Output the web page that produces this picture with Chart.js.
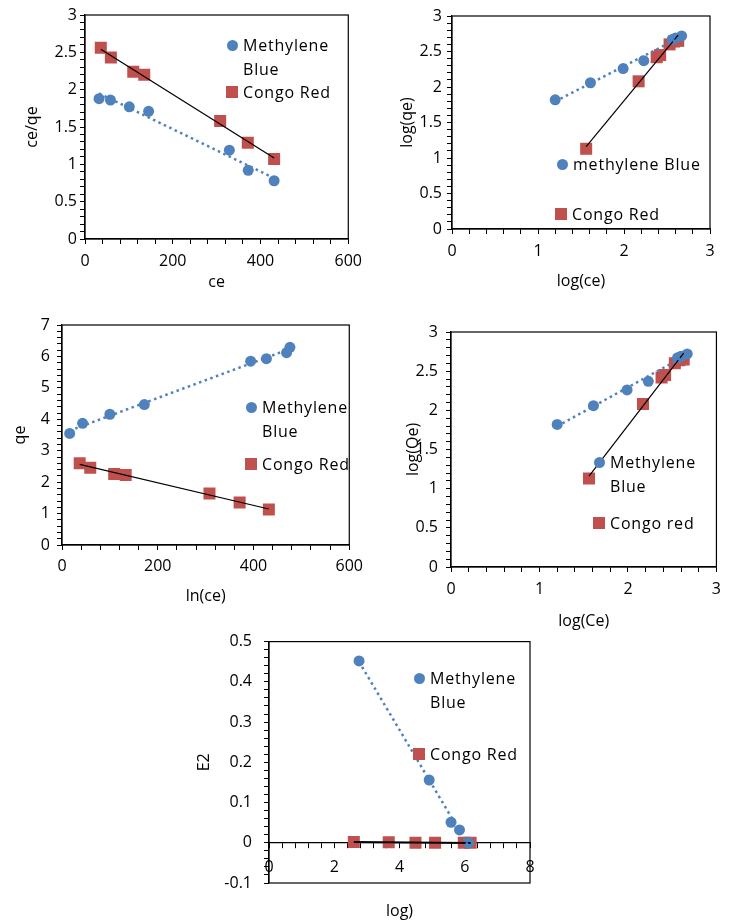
<!DOCTYPE html>
<html>
<head>
<meta charset="utf-8">
<script src="https://cdn.jsdelivr.net/npm/chart.js@4.4.1/dist/chart.umd.min.js"></script>
<style>
  body { margin: 0; background: #fff; width: 729px; height: 922px; position: relative; overflow: hidden; font-family: "Open Sans", sans-serif; }
  canvas { position: absolute; }
  .lg { position: absolute; font-size: 16px; line-height: 24px; color: #000; white-space: nowrap; letter-spacing: 0.8px; }
  .mk { position: absolute; }
  .mk.c { width: 11px; height: 11px; border-radius: 50%; background: #4F81BD; }
  .mk.s { width: 12px; height: 12px; background: #C0504D; }
</style>
</head>
<body>
<canvas id="c1" width="370" height="300" style="left:0;top:0"></canvas>
<canvas id="c2" width="359" height="300" style="left:370px;top:0"></canvas>
<canvas id="c3" width="370" height="330" style="left:0;top:300px"></canvas>
<canvas id="c4" width="359" height="340" style="left:370px;top:300px"></canvas>
<canvas id="c5" width="360" height="302" style="left:190px;top:620px"></canvas>
<div id="legends"></div>
<script>
// panel 1: ce/qe against ce
const p1BlueX = [32, 58, 101, 145, 329, 372, 431];
const p1BlueY = [1.88, 1.86, 1.77, 1.71, 1.19, 0.92, 0.78];
const p1RedX = [36, 59, 110, 135, 308, 371, 431];
const p1RedY = [2.56, 2.43, 2.24, 2.20, 1.58, 1.29, 1.07];

// panels 2 and 4: log(qe) against log(ce)
const logBlueX = [1.20, 1.61, 1.99, 2.23, 2.56, 2.60, 2.67];
const logBlueY = [1.82, 2.06, 2.26, 2.37, 2.67, 2.69, 2.72];
const logRedX = [1.56, 2.17, 2.38, 2.42, 2.53, 2.58, 2.63];
const logRedY = [1.13, 2.08, 2.42, 2.45, 2.60, 2.64, 2.65];

// panel 3: qe against ln(ce)
const p3BlueX = [16, 43, 100, 172, 394, 427, 469, 476];
const p3BlueY = [3.55, 3.87, 4.16, 4.47, 5.85, 5.93, 6.12, 6.29];
const p3RedX = [37, 59, 109, 133, 308, 371, 432];
const p3RedY = [2.60, 2.46, 2.26, 2.23, 1.64, 1.35, 1.13];

// panel 5: E2
const p5BlueX = [2.76, 4.91, 5.58, 5.84, 6.12];
const p5BlueY = [0.452, 0.156, 0.051, 0.032, 0.0];
const p5RedX = [2.60, 3.67, 4.49, 5.09, 5.97, 6.18];
const p5RedY = [0.002, 0.001, 0, 0, 0, 0];

const seriesNames = ['Methylene Blue', 'Congo Red'];

const BLUE = '#4F81BD';
const RED = '#C0504D';

Chart.defaults.font.family = '"Open Sans", sans-serif';
Chart.defaults.font.size = 16;
Chart.defaults.color = '#000';

function pts(xs, ys) {
    return xs.map((x, i) => ({ x: x, y: ys[i] }));
}

// least squares trendline over the data range
function fitLine(xs, ys) {
    const n = xs.length;
    const mx = xs.reduce((a, b) => a + b) / n;
    const my = ys.reduce((a, b) => a + b) / n;
    let sxy = 0, sxx = 0;
    for (let i = 0; i < n; i++) {
        sxy += (xs[i] - mx) * (ys[i] - my);
        sxx += (xs[i] - mx) * (xs[i] - mx);
    }
    const b = sxy / sxx, a = my - b * mx;
    const x0 = Math.min(...xs), x1 = Math.max(...xs);
    return [{ x: x0, y: a + b * x0 }, { x: x1, y: a + b * x1 }];
}

const frame = {
    id: 'frame',
    beforeDatasetsDraw(chart) {
        const { ctx, chartArea: a } = chart;
        ctx.save();
        ctx.strokeStyle = '#000';
        ctx.lineWidth = 1.2;
        ctx.strokeRect(a.left, a.top, a.right - a.left, a.bottom - a.top);
        ctx.restore();
    }
};

function majorLabel(major, dec) {
    return function (v) {
        const r = v / major;
        if (Math.abs(r - Math.round(r)) > 1e-6) return '';
        return String(Math.round(v * Math.pow(10, dec)) / Math.pow(10, dec));
    };
}

function makeChart(id, o) {
    const ctx = document.getElementById(id).getContext('2d');
    return new Chart(ctx, {
        type: 'scatter',
        data: {
            datasets: [
                { data: fitLine(o.bx, o.by), showLine: true, pointRadius: 0, borderColor: BLUE, borderWidth: 2.5, borderDash: [2.5, 3.5], order: 0 },
                { data: fitLine(o.rx, o.ry), showLine: true, pointRadius: 0, borderColor: '#000', borderWidth: o.blackW || 1.2, order: 0 },
                { label: seriesNames[0], data: pts(o.bx, o.by), pointStyle: 'circle', pointRadius: 5.5, backgroundColor: BLUE, borderColor: BLUE, borderWidth: 0, order: 1 },
                { label: seriesNames[1], data: pts(o.rx, o.ry), pointStyle: 'rect', pointRadius: 8.5, backgroundColor: RED, borderColor: RED, borderWidth: 0, order: 1 }
            ]
        },
        options: {
            animation: false,
            responsive: false,
            layout: { padding: o.pad },
            plugins: { legend: { display: false }, tooltip: { enabled: false } },
            scales: {
                x: {
                    type: 'linear', min: o.xMin, max: o.xMax,
                    position: o.xPos || 'bottom',
                    ticks: { stepSize: o.xStep, autoSkip: false, maxRotation: 0, minRotation: 0, padding: o.xPadT, callback: majorLabel(o.xMajor, 0) },
                    grid: { drawOnChartArea: false, tickLength: 5, color: '#000' },
                    border: { color: '#000', width: 1.2 },
                    title: { display: true, text: o.xTitle, padding: { top: 4, bottom: 4 } },
                    afterFit: s => { s.height = o.xH; }
                },
                y: {
                    type: 'linear', min: o.yMin, max: o.yMax,
                    ticks: { stepSize: o.yStep, autoSkip: false, padding: o.yPadT, callback: majorLabel(o.yMajor, 2) },
                    grid: { drawOnChartArea: false, tickLength: 5, color: '#000' },
                    border: { color: '#000', width: 1.2 },
                    title: { display: true, text: o.yTitle, padding: { top: 4, bottom: 4 } },
                    afterFit: s => { s.width = o.yW; }
                }
            }
        },
        plugins: [frame]
    });
}

makeChart('c1', {
    bx: p1BlueX, by: p1BlueY, rx: p1RedX, ry: p1RedY,
    pad: { left: 19, top: 15, right: 19, bottom: 4 }, yW: 66, xH: 57,
    xMin: 0, xMax: 600, xStep: 40, xMajor: 200, xPadT: 8, xTitle: 'ce',
    yMin: 0, yMax: 3, yStep: 0.1, yMajor: 0.5, yPadT: 3, yTitle: 'ce/qe'
});

makeChart('c2', {
    bx: logBlueX, by: logBlueY, rx: logRedX, ry: logRedY,
    pad: { left: 24, top: 16, right: 19, bottom: 5 }, yW: 58, xH: 66,
    xMin: 0, xMax: 3, xStep: 0.2, xMajor: 1, xPadT: 8, xTitle: 'log(ce)',
    yMin: 0, yMax: 3, yStep: 0.1, yMajor: 0.5, yPadT: 5, yTitle: 'log(qe)'
});

makeChart('c3', {
    bx: p3BlueX, by: p3BlueY, rx: p3RedX, ry: p3RedY,
    pad: { left: 7, top: 25, right: 17, bottom: 20 }, yW: 55, xH: 65,
    xMin: 0, xMax: 600, xStep: 40, xMajor: 200, xPadT: 7, xTitle: 'ln(ce)',
    yMin: 0, yMax: 7, yStep: 0.2, yMajor: 1, yPadT: 7, yTitle: 'qe'
});

makeChart('c4', {
    bx: logBlueX, by: logBlueY, rx: logRedX, ry: logRedY,
    pad: { left: 30, top: 32, right: 6, bottom: 5 }, yW: 51, xH: 68,
    xMin: 0, xMax: 3, xStep: 0.2, xMajor: 1, xPadT: 8, xTitle: 'log(Ce)',
    yMin: 0, yMax: 3, yStep: 0.1, yMajor: 0.5, yPadT: 8, yTitle: 'log(Qe)'
});

makeChart('c5', {
    bx: p5BlueX, by: p5BlueY, rx: p5RedX, ry: p5RedY, blackW: 2,
    pad: { left: 1, top: 20, right: 20, bottom: 39 }, yW: 78, xH: 82, xPos: { y: 0 },
    xMin: 0, xMax: 8, xStep: 0.4, xMajor: 2, xPadT: 10, xTitle: 'log)',
    yMin: -0.1, yMax: 0.5, yStep: 0.02, yMajor: 0.1, yPadT: 12, yTitle: 'E2'
});

// legends placed inside the plot areas, as in the original figure
const legendItems = [
    { x: 232, y: 45, kind: 'c', text: 'Methylene<br>Blue' },
    { x: 232, y: 92, kind: 's', text: 'Congo Red' },
    { x: 562, y: 164, kind: 'c', text: 'methylene Blue' },
    { x: 561, y: 214, kind: 's', text: 'Congo Red' },
    { x: 251, y: 407, kind: 'c', text: 'Methylene<br>Blue' },
    { x: 251, y: 464, kind: 's', text: 'Congo Red' },
    { x: 599, y: 462, kind: 'c', text: 'Methylene<br>Blue' },
    { x: 599, y: 523, kind: 's', text: 'Congo red' },
    { x: 419, y: 678, kind: 'c', text: 'Methylene<br>Blue' },
    { x: 419, y: 754, kind: 's', text: 'Congo Red' }
];
const host = document.getElementById('legends');
legendItems.forEach(function (it) {
    const m = document.createElement('div');
    const sz = it.kind === 'c' ? 11 : 12;
    m.className = 'mk ' + it.kind;
    m.style.left = (it.x - sz / 2) + 'px';
    m.style.top = (it.y - sz / 2) + 'px';
    host.appendChild(m);
    const t = document.createElement('div');
    t.className = 'lg';
    t.style.left = (it.x + 11) + 'px';
    t.style.top = (it.y - 12) + 'px';
    t.innerHTML = it.text;
    host.appendChild(t);
});
</script>
</body>
</html>
